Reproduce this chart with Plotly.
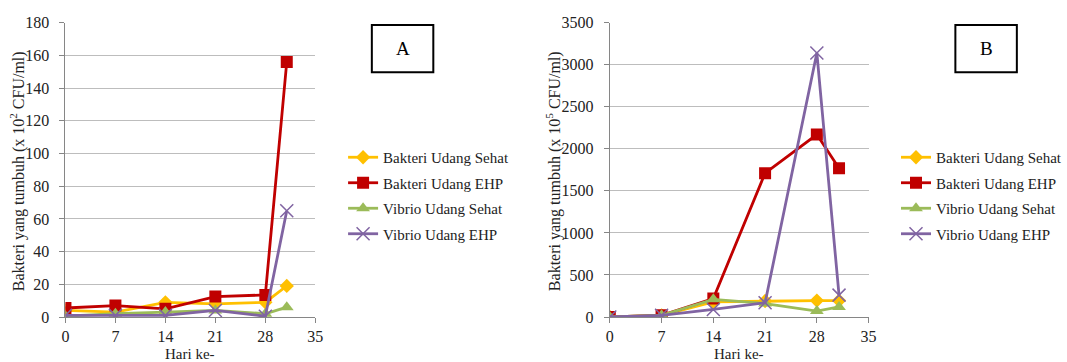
import plotly.graph_objects as go

# Sampling days
days = [0, 7, 14, 21, 28, 31]

series_names = ["Bakteri Udang Sehat", "Bakteri Udang EHP",
                "Vibrio Udang Sehat", "Vibrio Udang EHP"]

# Panel A values (x 10^2 CFU/ml)
a_bakteri_sehat = [4, 3, 9, 8, 9, 19]
a_bakteri_ehp = [5.5, 7, 5, 12.5, 13.5, 156]
a_vibrio_sehat = [0.5, 2, 3, 4, 2, 6]
a_vibrio_ehp = [1, 1, 1, 4, 0.5, 65]

# Panel B values (x 10^5 CFU/ml)
b_bakteri_sehat = [0, 20, 180, 190, 195, 195]
b_bakteri_ehp = [0, 20, 220, 1710, 2170, 1770]
b_vibrio_sehat = [0, 20, 210, 160, 70, 120]
b_vibrio_ehp = [0, 20, 90, 170, 3140, 260]

x_title = "Hari ke-"
y_title_a = "Bakteri yang tumbuh (x 10<sup>2</sup> CFU/ml)"
y_title_b = "Bakteri yang tumbuh (x 10<sup>5</sup> CFU/ml)"

colors = ["#FFC000", "#C00000", "#9BBB59", "#8064A2"]
symbols = ["diamond", "square", "triangle-up", "x-thin-open"]
msizes = [11, 12, 12, 13]

FONT = "Liberation Serif"
TEXT = "#222222"
W, H = 1067, 362

def px_x(p):
    return p / W

def px_y(p):
    return 1 - p / H

fig = go.Figure()

panels = [
    ("x", "y", "legend", [a_bakteri_sehat, a_bakteri_ehp, a_vibrio_sehat, a_vibrio_ehp], "a"),
    ("x2", "y2", "legend2", [b_bakteri_sehat, b_bakteri_ehp, b_vibrio_sehat, b_vibrio_ehp], "b"),
]

for xa, ya, leg, values, tag in panels:
    for i, (name, vals) in enumerate(zip(series_names, values)):
        sym = symbols[i]
        marker = dict(symbol=sym, size=msizes[i], color=colors[i])
        if sym.startswith("x-thin"):
            marker["line"] = dict(color=colors[i], width=1.5)
        fig.add_trace(go.Scatter(
            x=days, y=vals, name=name, mode="lines+markers",
            xaxis=xa, yaxis=ya, legend=leg, legendgroup=f"{tag}{i}",
            line=dict(color=colors[i], width=2.8),
            marker=marker,
        ))

axis_common = dict(
    showline=True, linecolor="#868686", linewidth=1,
    ticks="outside", ticklen=5, tickcolor="#868686",
    tickfont=dict(family=FONT, size=16, color=TEXT),
    zeroline=False, automargin=False,
)

plot_top, plot_bottom = 22.7, 317
xa_left, xa_right = 66, 318
xb_left, xb_right = 615, 876

fig.update_layout(
    width=W, height=H,
    margin=dict(l=0, r=0, t=0, b=0),
    paper_bgcolor="white", plot_bgcolor="white",
    font=dict(family=FONT, size=15, color=TEXT),
    xaxis=dict(domain=[px_x(xa_left), px_x(xa_right)], range=[0, 35],
               tickvals=[0, 7, 14, 21, 28, 35],
               showgrid=False, anchor="y", ticklabelstandoff=0, **axis_common),
    yaxis=dict(domain=[px_y(plot_bottom), px_y(plot_top)], range=[0, 180], dtick=20,
               showgrid=True, gridcolor="#BDBDBD", gridwidth=1, anchor="x",
               ticklabelstandoff=7, **axis_common),
    xaxis2=dict(domain=[px_x(xb_left), px_x(xb_right)], range=[0, 35],
                tickvals=[0, 7, 14, 21, 28, 35],
                showgrid=False, anchor="y2", ticklabelstandoff=0, **axis_common),
    yaxis2=dict(domain=[px_y(plot_bottom), px_y(plot_top)], range=[0, 3500], dtick=500,
                showgrid=True, gridcolor="#BDBDBD", gridwidth=1, anchor="x2",
                ticklabelstandoff=7, **axis_common),
    legend=dict(x=px_x(346), y=px_y(141), xanchor="left", yanchor="top",
                font=dict(family=FONT, size=15, color=TEXT),
                tracegroupgap=3, bgcolor="rgba(0,0,0,0)", itemwidth=30),
    legend2=dict(x=px_x(904), y=px_y(141), xanchor="left", yanchor="top",
                 font=dict(family=FONT, size=15, color=TEXT),
                 tracegroupgap=3, bgcolor="rgba(0,0,0,0)", itemwidth=30),
    showlegend=True,
)

# Axis titles
for cx, ytxt, ycx in [((xa_left + xa_right) / 2, y_title_a, 18.5),
                      ((xb_left + xb_right) / 2, y_title_b, 559)]:
    fig.add_annotation(x=px_x(cx), y=px_y(353.5), xref="paper", yref="paper",
                       text=x_title, showarrow=False, xanchor="center", yanchor="middle",
                       font=dict(family=FONT, size=15, color=TEXT))
    fig.add_annotation(x=px_x(ycx), y=px_y((plot_top + plot_bottom) / 2 + 1),
                       xref="paper", yref="paper", text=ytxt, textangle=-90,
                       showarrow=False, xanchor="center", yanchor="middle",
                       font=dict(family=FONT, size=16, color=TEXT))

# Panel labels in framed boxes
for label, x0, x1 in [("A", 375, 437), ("B", 963.5, 1025.5)]:
    fig.add_shape(type="rect", xref="paper", yref="paper",
                  x0=px_x(x0), x1=px_x(x1), y0=px_y(72.3), y1=px_y(25),
                  line=dict(color="black", width=2), fillcolor="white")
    fig.add_annotation(x=px_x((x0 + x1) / 2), y=px_y(48.5), xref="paper", yref="paper",
                       text=label, showarrow=False, xanchor="center", yanchor="middle",
                       font=dict(family=FONT, size=19, color="black"))

fig.write_html("out.html")
